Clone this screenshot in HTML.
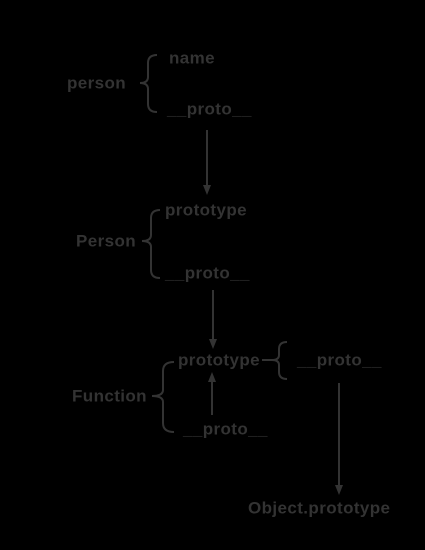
<!DOCTYPE html>
<html><head><meta charset="utf-8"><style>
html,body{margin:0;padding:0;background:#000;}
svg{display:block}
text{font-family:"Liberation Sans",sans-serif;font-weight:bold;font-size:17px;letter-spacing:0.4px;fill:#333;dominant-baseline:central}
</style></head><body>
<svg width="425" height="550" viewBox="0 0 425 550">
<defs><marker id="a" markerWidth="10" markerHeight="10" refX="5" refY="5" orient="auto" markerUnits="userSpaceOnUse"><path d="M0,1 L10,5 L0,9 z" fill="#333"/></marker></defs>
<g fill="none" stroke="#333" stroke-width="2">
<path d="M157,55 Q148,55 148,63 L148,77 Q148,83 140,83 Q148,83 148,89 L148,104 Q148,112 157,112"/>
<path d="M160,210 Q151,210 151,218 L151,235 Q151,241 142,241 Q151,241 151,247 L151,270 Q151,278 160,278"/>
<path d="M174,362 Q163,362 163,371 L163,390 Q163,396 152,396 Q163,396 163,402 L163,423 Q163,432 174,432"/>
<path d="M287,342 Q279,342 279,349 L279,355 Q279,360 272,360 Q279,360 279,365 L279,372 Q279,379 287,379"/>
<line x1="262" y1="360" x2="273" y2="360"/>
<line x1="207" y1="130" x2="207" y2="190" marker-end="url(#a)"/>
<line x1="213" y1="290" x2="213" y2="344" marker-end="url(#a)"/>
<line x1="212" y1="415" x2="212" y2="377" marker-end="url(#a)"/>
<line x1="339" y1="383" x2="339" y2="490" marker-end="url(#a)"/>
</g>
<text x="67" y="83">person</text>
<text x="169" y="58">name</text>
<text x="167" y="109">__proto__</text>
<text x="76" y="241">Person</text>
<text x="165" y="210">prototype</text>
<text x="165" y="273">__proto__</text>
<text x="72" y="396">Function</text>
<text x="178" y="360">prototype</text>
<text x="183" y="429">__proto__</text>
<text x="297" y="360">__proto__</text>
<text x="248" y="508">Object.prototype</text>
</svg>
</body></html>
